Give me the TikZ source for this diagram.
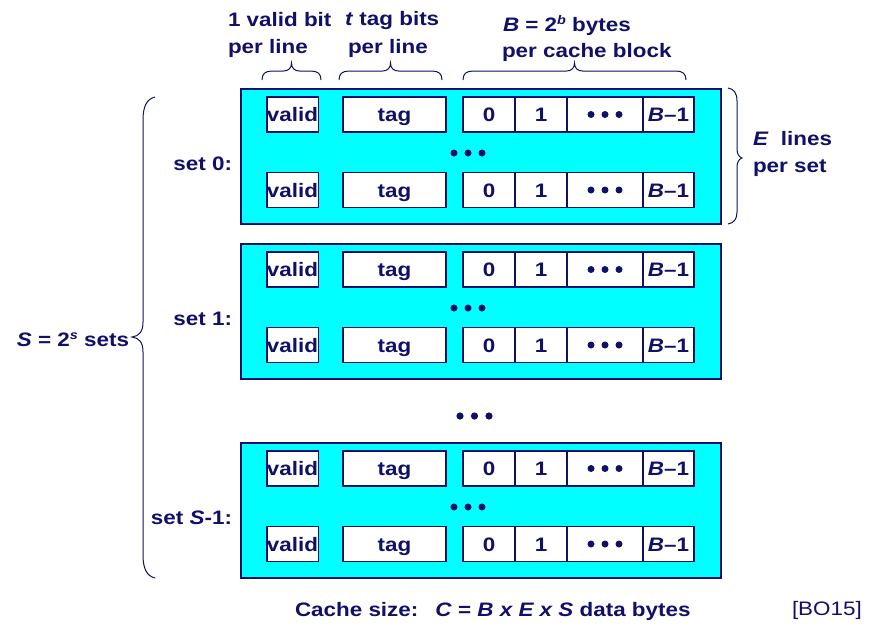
\documentclass[tikz,border=0pt]{standalone}
\usepackage{fontspec}
\setmainfont{Liberation Sans}[FakeStretch=1.15]
\definecolor{navy}{RGB}{16,16,104}
\definecolor{cyanfill}{RGB}{0,255,255}
\begin{document}
\begin{tikzpicture}[x=1pt,y=-1pt,
  font=\fontsize{19.5}{24}\selectfont\bfseries,
  every node/.style={text=navy, inner sep=0pt, outer sep=0pt},
  setbox/.style={draw=navy, fill=cyanfill, line width=1.3pt, minimum width=480pt, minimum height=135pt},
  cell/.style={draw=navy, fill=white, line width=1.1pt, minimum height=35pt, text height=14pt, text depth=0pt},
  lbl/.style={anchor=base west},
  brc/.style={draw=navy, line width=1pt},
  dot/.style={fill=navy, draw=none}]
\fill[white] (0,0) rectangle (878,625);
\useasboundingbox (0,0) rectangle (878,625);

% sets
\foreach \t/\n/\lab in {89/0/{set 0:}, 244/1/{set 1:}, 443/2/{set \textit{S}-1:}} {
  \node[setbox] (set\n) at (481, \t+67.5) {};
  \node[anchor=base east] (lab\n) at (232, \t+81) {\lab};
  \foreach \r/\off in {a/25.5, b/101} {
    \node[cell, minimum width=51pt]  (v\n\r) at (292.5, \t+\off) {valid};
    \node[cell, minimum width=103pt] (t\n\r) at (394.5, \t+\off) {tag};
    \node[cell, minimum width=52pt]  (z\n\r) at (489, \t+\off) {0};
    \node[cell, minimum width=52pt]  (o\n\r) at (541, \t+\off) {1};
    \node[cell, minimum width=76pt]  (d\n\r) at (605, \t+\off) {};
    \node[cell, minimum width=51pt]  (b\n\r) at (668.5, \t+\off) {\textit{B}–1};
    \fill[dot] (d\n\r.center) ++(-14,0) circle (3.5pt) ++(14,0) circle (3.5pt) ++(14,0) circle (3.5pt);
  }
  \fill[dot] (454,\t+64) circle (3.5pt) (468,\t+64) circle (3.5pt) (482,\t+64) circle (3.5pt);
}
% dots between sets
\coordinate (gap) at (474.5,416);
\fill[dot] (gap) ++(-14.5,0) circle (3.6pt) ++(14.5,0) circle (3.6pt) ++(14.5,0) circle (3.6pt);

% top labels
\node[lbl] (tv1) at (228,26) {1 valid bit};
\node[lbl] (tv2) at (228,53) {per line};
\node[lbl] (tt1) at (345,25) {\textit{t} tag bits};
\node[lbl] (tt2) at (348,53) {per line};
\node[lbl] (tb1) at (503,31) {\textit{B} = 2\raisebox{7pt}{\fontsize{12.5}{12}\selectfont\textit{b}} bytes};
\node[lbl] (tb2) at (502,57) {per cache block};

% top braces
\foreach \a/\b in {262/321, 339/442, 463/686} {
  \pgfmathsetmacro{\m}{(\a+\b)/2}
  \draw[brc] (\a,80) .. controls (\a,74) and (\a+3,71) .. (\a+10,71) -- (\m-8,71)
     .. controls (\m-3,71) and (\m,68) .. (\m,63)
     .. controls (\m,68) and (\m+3,71) .. (\m+8,71) -- (\b-10,71)
     .. controls (\b-3,71) and (\b,74) .. (\b,80);
}

% left brace
\draw[brc] (155,97) .. controls (147,99) and (143,106) .. (143,120) -- (143,322)
  .. controls (143,332) and (139,336) .. (132,337)
  .. controls (139,338) and (143,342) .. (143,352) -- (143,555)
  .. controls (143,569) and (147,576) .. (155,578);
\node[anchor=base east] (S) at (129,346) {\textit{S} = 2\raisebox{7pt}{\fontsize{12.5}{12}\selectfont\textit{s}} sets};

% right brace
\draw[brc] (728,88) .. controls (734,89) and (737,93) .. (737,101) -- (737,149)
  .. controls (737,154) and (739,157) .. (742,158)
  .. controls (739,159) and (737,162) .. (737,167) -- (737,212)
  .. controls (737,219) and (734,223) .. (728,224);
\node[lbl] (E1) at (753,145) {\textit{E}\ \ lines};
\node[lbl] (E2) at (753,172) {per set};

% bottom
\node[lbl] (cs) at (295,616) {Cache size:\hspace{17pt}\textit{C} = \textit{B x E x S} data bytes};
\node[lbl, font=\fontsize{19.5}{24}\selectfont\mdseries] (ref) at (792,615) {[BO15]};
\end{tikzpicture}
\end{document}
